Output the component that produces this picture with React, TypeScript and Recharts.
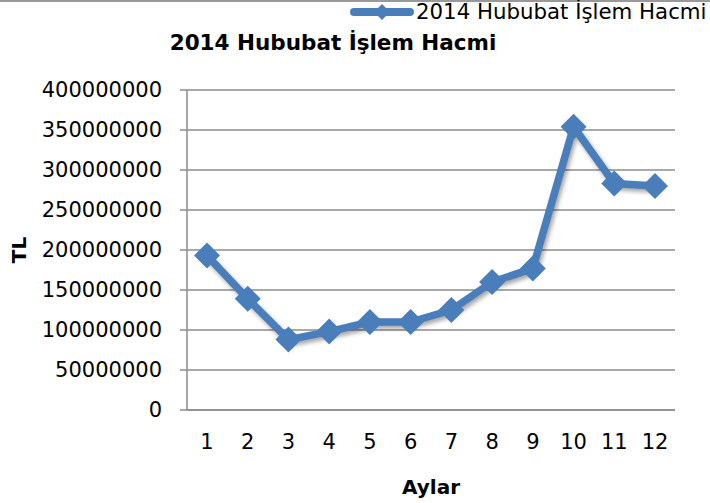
import { LineChart, Line, XAxis, YAxis, CartesianGrid } from 'recharts'

const months = ['1', '2', '3', '4', '5', '6', '7', '8', '9', '10', '11', '12']
const volumes = [
  193000000, 139000000, 88000000, 98000000, 110000000, 110000000,
  125000000, 160000000, 177000000, 354000000, 283000000, 280000000,
]
const yTicks = [0, 50000000, 100000000, 150000000, 200000000, 250000000, 300000000, 350000000, 400000000]

const seriesName = '2014 Hububat İşlem Hacmi'
const BLUE = '#4A7EBB'
const GRID = '#8c8c8c'
const FONT = '"DejaVu Sans", sans-serif'

const data = months.map((m, i) => ({ ay: m, hacim: volumes[i] }))

const Diamond = (props: any) => {
  const { cx, cy, index } = props
  if (cx == null || cy == null) return null
  const r = 13
  return (
    <polygon
      key={`d-${index}`}
      points={`${cx},${cy - r} ${cx + r},${cy} ${cx},${cy + r} ${cx - r},${cy}`}
      fill={BLUE}
    />
  )
}

const TlLabel = ({ viewBox }: any) => {
  const x = 19
  const y = viewBox.y + viewBox.height / 2
  return (
    <text
      x={x}
      y={y}
      transform={`rotate(-90 ${x} ${y})`}
      textAnchor="middle"
      dominantBaseline="central"
      fontFamily={FONT}
      fontWeight="bold"
      fontSize={20}
      fill="#000"
    >
      TL
    </text>
  )
}

const AylarLabel = ({ viewBox }: any) => (
  <text
    x={viewBox.x + viewBox.width / 2}
    y={viewBox.y + 77}
    textAnchor="middle"
    dominantBaseline="central"
    fontFamily={FONT}
    fontWeight="bold"
    fontSize={20}
    fill="#000"
  >
    Aylar
  </text>
)

export default function App() {
  return (
    <div
      style={{
        position: 'absolute',
        left: 0,
        top: 0,
        width: 710,
        height: 503,
        background: '#fff',
        fontFamily: FONT,
        overflow: 'hidden',
      }}
    >
      <style>{`.recharts-line { filter: drop-shadow(2px 3px 2px rgba(0,0,0,0.35)); }`}</style>
      <div style={{ position: 'absolute', left: 0, top: 0, width: 710, height: 2, background: '#999' }} />

      {/* legend */}
      <div style={{ position: 'absolute', left: 348, top: 1, display: 'flex', alignItems: 'center', height: 22 }}>
        <svg width={68} height={22}>
          <line x1={6} y1={11} x2={62} y2={11} stroke={BLUE} strokeWidth={8} strokeLinecap="round" />
          <polygon points="34,3 42,11 34,19 26,11" fill={BLUE} />
        </svg>
        <span style={{ fontSize: 21.3, color: '#000', lineHeight: '22px', whiteSpace: 'nowrap' }}>{seriesName}</span>
      </div>

      {/* title */}
      <div
        style={{
          position: 'absolute',
          left: 0,
          width: 666,
          top: 30,
          textAlign: 'center',
          fontSize: 21.5,
          fontWeight: 'bold',
          color: '#000',
          whiteSpace: 'nowrap',
        }}
      >
        {seriesName}
      </div>

      <LineChart
        width={710}
        height={503}
        data={data}
        margin={{ top: 90, right: 35, bottom: 0, left: 0 }}
      >
        <CartesianGrid vertical={false} stroke={GRID} strokeWidth={1.5} />
        <XAxis
          dataKey="ay"
          height={93}
          padding={{ left: 20, right: 20 }}
          tickLine={false}
          tickSize={0}
          tickMargin={24}
          axisLine={{ stroke: GRID, strokeWidth: 1.5 }}
          tick={{ fontSize: 21, fill: '#000', fontFamily: FONT }}
          interval={0}
          label={<AylarLabel />}
        />
        <YAxis
          width={187}
          domain={[0, 400000000]}
          ticks={yTicks}
          tickFormatter={(v) => String(v)}
          tickSize={7}
          tickMargin={18}
          tickLine={{ stroke: GRID, strokeWidth: 1.5 }}
          axisLine={{ stroke: GRID, strokeWidth: 1.5 }}
          tick={{ fontSize: 21, fill: '#000', fontFamily: FONT }}
          label={<TlLabel />}
        />
        <Line
          type="linear"
          dataKey="hacim"
          name={seriesName}
          stroke={BLUE}
          strokeWidth={7.5}
          strokeLinejoin="round"
          dot={Diamond}
          activeDot={false}
          isAnimationActive={false}
        />
      </LineChart>
    </div>
  )
}
